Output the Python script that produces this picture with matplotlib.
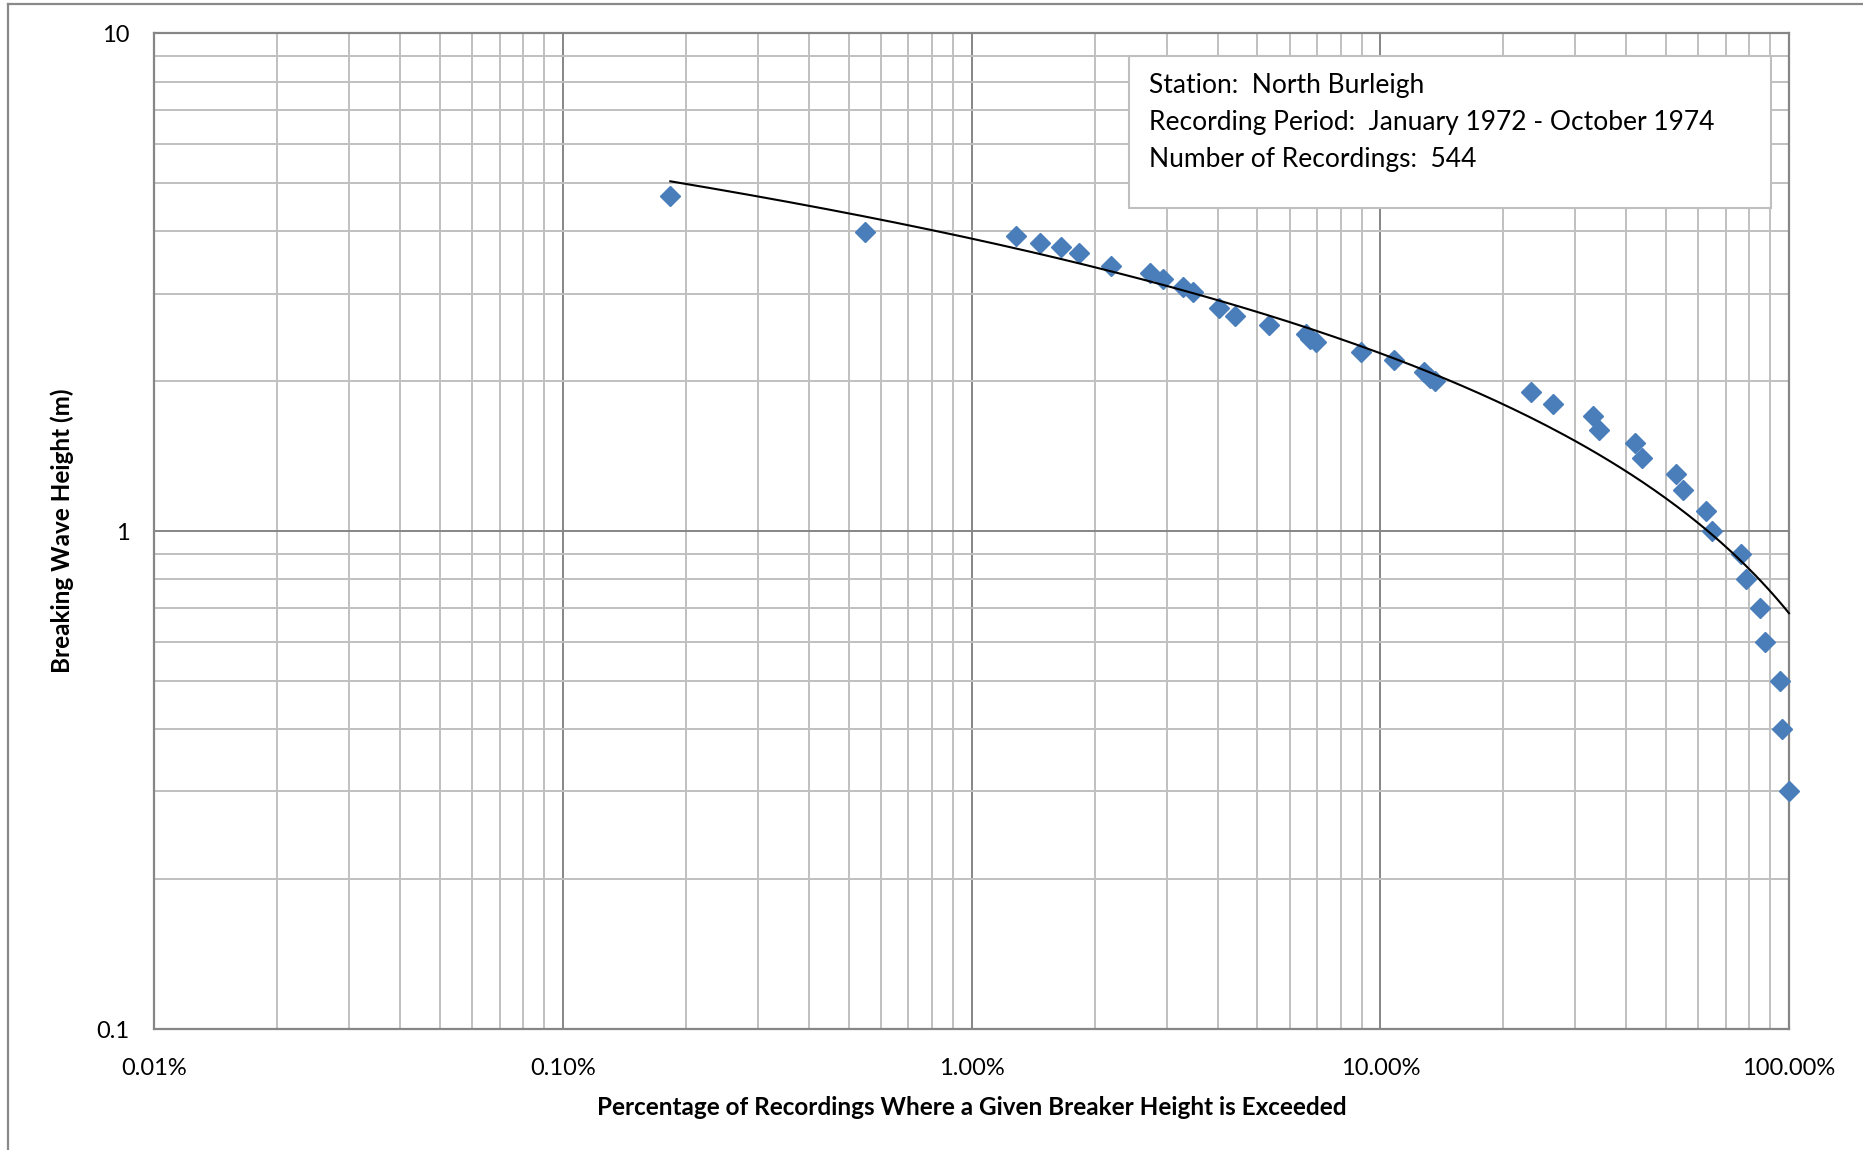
import numpy as np
import matplotlib
matplotlib.use("Agg")
import matplotlib.pyplot as plt
from matplotlib.ticker import LogLocator, FuncFormatter, NullFormatter
from matplotlib.lines import Line2D

plt.rcParams['font.family'] = ['Lato', 'DejaVu Sans']

# Percentage of recordings where a given breaker height is exceeded (%)
exceed_pct = [0.183, 0.547, 1.28, 1.47, 1.65, 1.83, 2.19, 2.73, 2.94, 3.29, 3.47,
              4.03, 4.42, 5.33, 6.56, 6.73, 6.97, 8.98, 10.8, 12.8, 13.2, 13.6,
              23.4, 26.4, 33.1, 34.3, 41.9, 43.6, 52.9, 55.1, 62.6, 64.7, 76.5,
              78.5, 85.1, 87.5, 94.8, 96.1, 100.0]
# Breaking wave height (m)
wave_height = [4.71, 3.99, 3.91, 3.80, 3.72, 3.62, 3.41, 3.30, 3.21, 3.10, 3.02,
               2.81, 2.70, 2.60, 2.49, 2.43, 2.40, 2.29, 2.21, 2.09, 2.03, 2.00,
               1.90, 1.80, 1.70, 1.60, 1.50, 1.40, 1.30, 1.21, 1.10, 1.00, 0.90,
               0.80, 0.70, 0.60, 0.50, 0.40, 0.30]

x_ticks = [0.01, 0.1, 1, 10, 100]
y_ticks = [0.1, 1, 10]
info_lines = ["Station:  North Burleigh",
              "Recording Period:  January 1972 - October 1974",
              "Number of Recordings:  544"]
x_label = "Percentage of Recordings Where a Given Breaker Height is Exceeded"
y_label = "Breaking Wave Height (m)"

W, H = 1863, 1150
fig = plt.figure(figsize=(W / 100, H / 100), dpi=100)
ax = fig.add_axes([154.4 / W, 1 - 1029 / H, (1789 - 154.4) / W, (1029 - 33.3) / H])

ax.set_xscale('log')
ax.set_yscale('log')
ax.set_xlim(0.01, 100)
ax.set_ylim(0.1, 10)

major_c = '#868686'
minor_c = '#c0c0c0'
ax.xaxis.set_major_locator(LogLocator(base=10, numticks=10))
ax.yaxis.set_major_locator(LogLocator(base=10, numticks=10))
ax.xaxis.set_minor_locator(LogLocator(base=10, subs=np.arange(2, 10), numticks=20))
ax.yaxis.set_minor_locator(LogLocator(base=10, subs=np.arange(2, 10), numticks=20))
ax.grid(True, which='minor', color=minor_c, lw=1.4, zorder=0)
ax.grid(True, which='major', color=major_c, lw=1.4, zorder=0)
ax.set_axisbelow(True)
ax.tick_params(which='both', length=0)
ax.set_xticks(x_ticks)
ax.set_yticks(y_ticks)
ax.xaxis.set_major_formatter(FuncFormatter(lambda v, p: f"{v:.2f}%"))
ax.yaxis.set_major_formatter(FuncFormatter(lambda v, p: f"{v:g}"))
ax.xaxis.set_minor_formatter(NullFormatter())
ax.yaxis.set_minor_formatter(NullFormatter())
ax.tick_params(axis='x', labelsize=17, pad=21, colors='black')
ax.tick_params(axis='y', labelsize=17, pad=18, colors='black')
for s in ax.spines.values():
    s.set_color(major_c)
    s.set_linewidth(1.6)

# data points
ax.plot(exceed_pct, wave_height, linestyle='none', marker='D', markersize=10.5,
        color='#4a7ebb', markeredgecolor='#4a7ebb', zorder=3, clip_on=False)

# logarithmic trend line fitted to the data (h = a ln(x) + b, x as a fraction)
xf = np.array(exceed_pct) / 100.0
a, b = np.polyfit(np.log(xf), np.array(wave_height), 1)
xt = np.logspace(np.log10(xf.min()), np.log10(xf.max()), 200)
ax.plot(xt * 100, a * np.log(xt) + b, color='black', lw=1.5, zorder=4, clip_on=False)

ax.set_xlabel(x_label, fontsize=17.5, fontweight='bold', labelpad=12)
ax.set_ylabel(y_label, fontsize=17.5, fontweight='bold', labelpad=16)

# info box
bx0, by0, bx1, by1 = 1129, 56, 1771, 208
box = plt.Rectangle((bx0 / W, 1 - by1 / H), (bx1 - bx0) / W, (by1 - by0) / H,
                    transform=fig.transFigure, facecolor='white', edgecolor='#bfbfbf',
                    lw=1.5, zorder=5)
fig.patches.append(box)
for i, t in enumerate(info_lines):
    fig.text(1149 / W, 1 - (86 + i * 36.5) / H, t, fontsize=19, va='center', ha='left',
             zorder=6)

# outer chart border (top and left)
fig.add_artist(Line2D([8 / W, 1], [1 - 4 / H, 1 - 4 / H], transform=fig.transFigure,
                      color='#898989', lw=1.6))
fig.add_artist(Line2D([8 / W, 8 / W], [0, 1 - 4 / H], transform=fig.transFigure,
                      color='#898989', lw=1.6))

fig.savefig('out.png', dpi=100)
